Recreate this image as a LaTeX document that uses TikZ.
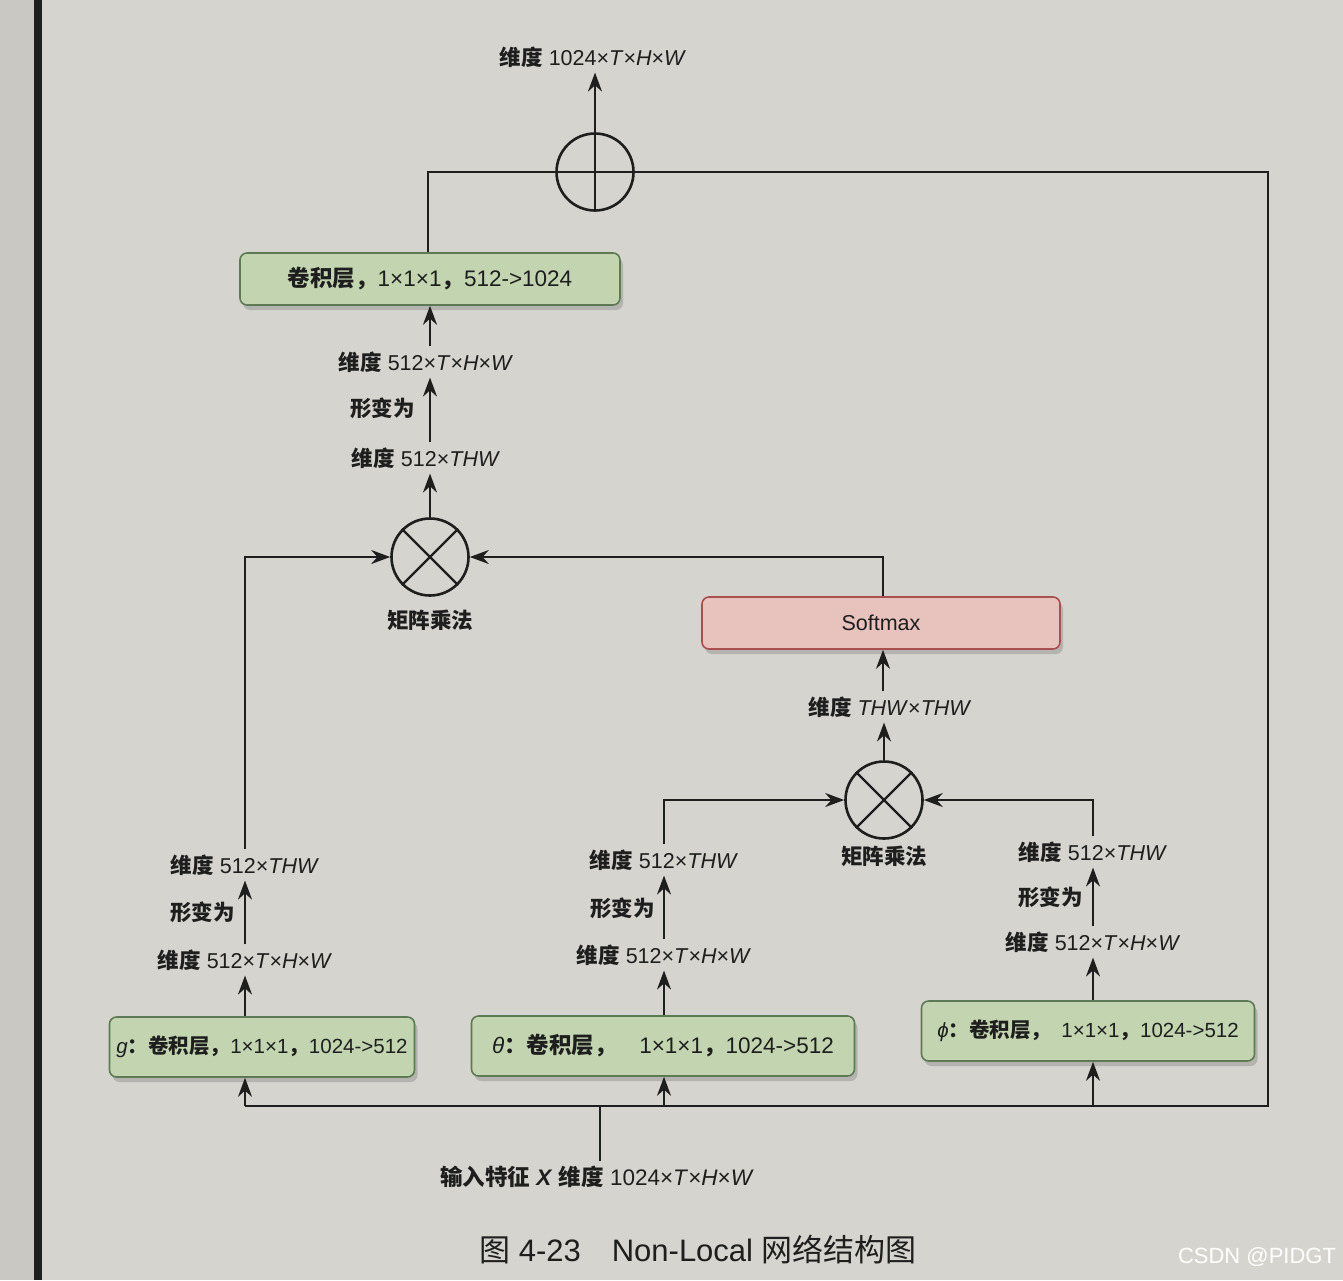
\documentclass[tikz,border=0pt]{standalone}
\usepackage{fontspec}
\setmainfont{Liberation Sans}
\newfontfamily\cjk{Noto Sans CJK SC}
\usetikzlibrary{arrows.meta,shadows,calc}
\definecolor{bg}{HTML}{D5D4CF}
\definecolor{bgleft}{HTML}{C9C8C3}
\definecolor{convfill}{HTML}{C3D5B0}
\definecolor{convedge}{HTML}{5E7A55}
\definecolor{softfill}{HTML}{E8C3BE}
\definecolor{softedge}{HTML}{A8504F}
\definecolor{ink}{HTML}{1E1E1E}
\newcommand\zh[1]{{\cjk\bfseries #1}}
\newcommand\dimA{\zh{维度}\ 512×\textit{T}×\textit{H}×\textit{W}}
\newcommand\dimB{\zh{维度}\ 512×\textit{THW}}
\tikzset{
  lbl/.style={font=\fontsize{21.5}{25}\selectfont, text=ink, inner sep=5pt},
  conn/.style={draw=ink, line width=2.3pt},
  arr/.style={conn, -{Stealth[length=19pt,width=14pt]}},
  opnode/.style={circle, draw=ink, line width=2.6pt, minimum size=77pt, inner sep=0},
  boxstyle/.style={rounded corners=7pt, line width=1.6pt, text=ink, inner xsep=3pt,
     font=\fontsize{22.5}{26}\selectfont,
     drop shadow={shadow xshift=3pt, shadow yshift=-5pt, fill=black!45, opacity=0.45}},
  conv/.style={boxstyle, draw=convedge, fill=convfill},
  smallconv/.style={conv, font=\fontsize{20.5}{24}\selectfont},
  soft/.style={boxstyle, draw=softedge, fill=softfill, font=\fontsize{21.5}{25}\selectfont}
}
\begin{document}
\begin{tikzpicture}[x=1pt,y=-1pt]
\fill[bg] (0,0) rectangle (1343,1280);
\fill[bgleft] (0,0) rectangle (36,1280);
\fill[black!88] (34,0) rectangle (42,1280);
\useasboundingbox (0,0) rectangle (1343,1280);

% top output
\node[lbl] (out) at (593,57) {\zh{维度}\ 1024×\textit{T}×\textit{H}×\textit{W}};
\node[opnode] (op) at (595,172) {};
\draw[conn] (op.north) -- (op.south);
\draw[conn] (op.west) -- (op.east);

% top conv
\node[conv, minimum width=380pt, minimum height=52pt] (convT) at (430,279) {\zh{卷积层，}1×1×1\zh{，}512->1024};
\node[lbl] (tA) at (426,362) {\dimA};
\node[lbl] (tB) at (426,458) {\dimB};
\node[lbl, anchor=east] (tR) at (420,408) {\zh{形变为}};

% otimes 1
\node[opnode] (ot1) at (430,557) {};
\draw[conn] (ot1.north east) -- (ot1.south west);
\draw[conn] (ot1.north west) -- (ot1.south east);
\node[lbl] (m1) at (430,620) {\zh{矩阵乘法}};

% softmax
\node[soft, minimum width=358pt, minimum height=52pt] (sm) at (881,623) {Softmax};
\node[lbl] (thw) at (890,707) {\zh{维度}\ \textit{THW}×\textit{THW}};

% otimes 2
\node[opnode] (ot2) at (884,800) {};
\draw[conn] (ot2.north east) -- (ot2.south west);
\draw[conn] (ot2.north west) -- (ot2.south east);
\node[lbl] (m2) at (884,856) {\zh{矩阵乘法}};

% g branch
\node[smallconv, minimum width=305pt, minimum height=60pt] (g) at (262,1047) {\textit{g}\zh{：卷积层，}1×1×1\zh{，}1024->512};
\node[lbl] (gA) at (245,960) {\dimA};
\node[lbl] (gB) at (245,865) {\dimB};
\node[lbl, anchor=east] (gR) at (240,912) {\zh{形变为}};

% theta branch
\node[conv, minimum width=383pt, minimum height=60pt] (th) at (663,1046) {\textit{θ}\zh{：卷积层，}\quad 1×1×1\zh{，}1024->512};
\node[lbl] (thA) at (664,955) {\dimA};
\node[lbl] (thB) at (664,860) {\dimB};
\node[lbl, anchor=east] (thR) at (660,908) {\zh{形变为}};

% phi branch
\node[smallconv, minimum width=333pt, minimum height=60pt] (ph) at (1088,1031) {\textit{ϕ}\zh{：卷积层，}\enspace 1×1×1\zh{，}1024->512};
\node[lbl] (phA) at (1093,942) {\dimA};
\node[lbl] (phB) at (1093,852) {\dimB};
\node[lbl, anchor=east] (phR) at (1088,897) {\zh{形变为}};

% input
\node[lbl, font=\fontsize{22.5}{26}\selectfont] (inp) at (597,1177) {\zh{输入特征} \textbf{\textit{X}} \zh{维度}\ 1024×\textit{T}×\textit{H}×\textit{W}};
\coordinate (busL) at (245,1106);
\coordinate (busR) at (1268,1106);

% caption and watermark
\node[font=\fontsize{31}{35}\selectfont, text=ink] (cap) at (698,1250) {{\cjk 图}\ 4-23\quad Non-Local\ {\cjk 网络结构图}};
\node[font=\fontsize{22}{26}\selectfont, text=white] (wm) at (1257,1257) {CSDN @PIDGT};

% connectors: top section
\draw[arr] (op.north) -- (out.south -| op.north);
\draw[conn] (convT.north -| 428,0) |- (op.west);
\draw[arr] (tA.north -| 430,0) -- (convT.south -| 430,0);
\draw[arr] (tB.north -| 430,0) -- (tA.south -| 430,0);
\draw[arr] (ot1.north) -- (tB.south -| ot1.north);
\draw[arr] (gB.north) |- (ot1.west);
\draw[conn] (sm.north -| 883,0) |- ($(ot1.east)+(18pt,0)$);
\draw[arr] ($(ot1.east)+(20pt,0)$) -- (ot1.east);

% softmax chain
\draw[arr] (thw.north -| 883,0) -- (sm.south -| 883,0);
\draw[arr] (ot2.north) -- (thw.south -| ot2.north);
\draw[arr] (thB.north) |- (ot2.west);
\draw[arr] (phB.north) |- (ot2.east);

% branch chains
\draw[arr] (gA.north) -- (gB.south);
\draw[arr] (gA.south |- g.north) -- (gA.south);
\draw[arr] (thA.north) -- (thB.south);
\draw[arr] (thA.south |- th.north) -- (thA.south);
\draw[arr] (phA.north) -- (phB.south);
\draw[arr] (phA.south |- ph.north) -- (phA.south);

% residual and bus
\draw[conn] (op.east) -| (busR) -- (busL);
\draw[arr] (busL) -- (busL |- g.south);
\draw[arr] (thA.south |- busL) -- (thA.south |- th.south);
\draw[arr] (phA.south |- busL) -- (phA.south |- ph.south);
\draw[conn] (inp.north -| 600,0) -- (busL -| 600,0);
\end{tikzpicture}
\end{document}
